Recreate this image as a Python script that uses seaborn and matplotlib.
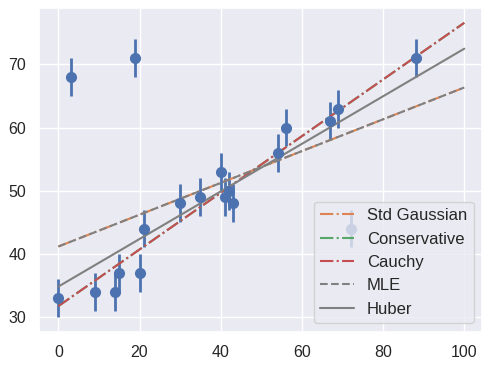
import numpy as np
import seaborn as sns
import matplotlib
matplotlib.use("Agg")
import matplotlib.pyplot as plt

# data points (error bars are +/- 3)
x = [0, 3, 9, 14, 15, 19, 20, 21, 30, 35, 40, 41, 42, 43, 54, 56, 67, 69, 72, 88]
y = [33, 68, 34, 34, 37, 71, 37, 44, 48, 49, 53, 49, 50, 48, 56, 60, 61, 63, 44, 71]
yerr = [3] * len(x)

# fitted lines: (intercept, slope)
fits = {
    "Std Gaussian": (41.15, 0.252),
    "Conservative": (31.7, 0.449),
    "Cauchy": (31.7, 0.449),
    "MLE": (41.15, 0.252),
    "Huber": (34.8, 0.377),
}
styles = {
    "Std Gaussian": dict(color="C1", ls="-."),
    "Conservative": dict(color="C2", ls="-."),
    "Cauchy": dict(color="C3", ls="-."),
    "MLE": dict(color="gray", ls="--"),
    "Huber": dict(color="gray", ls="-"),
}

sns.set_theme(style="darkgrid")
plt.rcParams["font.family"] = ["Liberation Sans", "DejaVu Sans"]

fig, ax = plt.subplots(figsize=(4.91, 3.68), dpi=100)
ax.errorbar(x, y, yerr=yerr, fmt="o", color="C0", markersize=7, elinewidth=2)

xx = np.array([0, 100])
for name, (b, m) in fits.items():
    ax.plot(xx, b + m * xx, label=name, lw=1.5, **styles[name])

ax.set_xlim(-4.7, 104.4)
ax.legend(loc="lower right", fontsize=12)
ax.tick_params(labelsize=11.5)
fig.subplots_adjust(left=0.08, right=0.982, top=0.978, bottom=0.099)
fig.savefig("out.png")
